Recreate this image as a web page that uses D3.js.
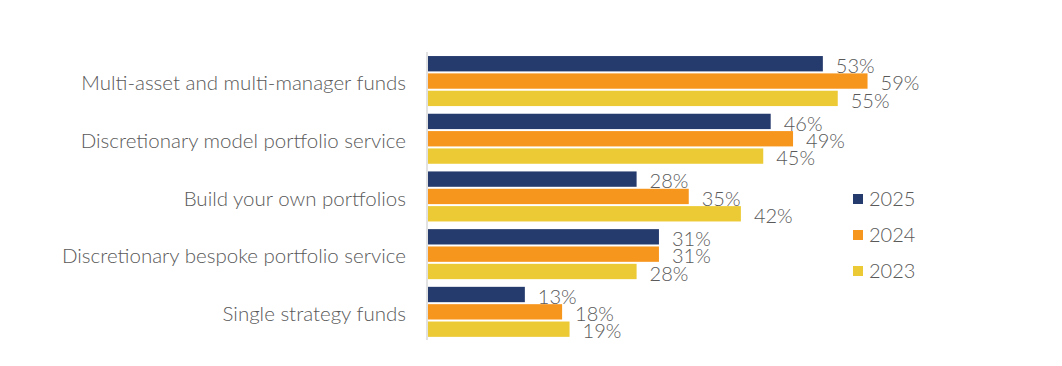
<!DOCTYPE html>
<html>
<head>
<meta charset="utf-8">
<script src="https://cdn.jsdelivr.net/npm/d3@7"></script>
<style>
  body { margin: 0; background: #fff; }
  text { font-family: Lato, "Open Sans", sans-serif; font-weight: 300; fill: #595959; }
</style>
</head>
<body>
<script>
// Chart data
const categories = [
  "Multi-asset and multi-manager funds",
  "Discretionary model portfolio service",
  "Build your own portfolios",
  "Discretionary bespoke portfolio service",
  "Single strategy funds"
];
const years = ["2025", "2024", "2023"];
const values2025 = [53, 46, 28, 31, 13];
const values2024 = [59, 49, 35, 31, 18];
const values2023 = [55, 45, 42, 28, 19];
const colors = ["#253b6e", "#f7961d", "#ecca35"];

const seriesValues = [values2025, values2024, values2023];

const width = 1062;
const height = 366;

const svg = d3.select("body")
  .append("svg")
  .attr("width", width)
  .attr("height", height);

// Scales
const x = d3.scaleLinear().domain([0, 60]).range([428, 875]);

const y = d3.scaleBand()
  .domain(categories)
  .range([52.2, 340.7])
  .paddingInner(0.133)
  .paddingOuter(0.0667);

const ySub = d3.scaleBand()
  .domain(years)
  .range([0, y.bandwidth()])
  .paddingInner(0.115);

// One group per category
const groups = svg.selectAll(".cat")
  .data(categories)
  .enter()
  .append("g")
  .attr("class", "cat")
  .attr("transform", d => `translate(0, ${y(d)})`);

groups.each(function (cat, i) {
  const g = d3.select(this);
  const rows = years.map((yr, j) => ({ year: yr, value: seriesValues[j][i], color: colors[j] }));

  g.selectAll("rect")
    .data(rows)
    .enter()
    .append("rect")
    .attr("x", x(0))
    .attr("y", d => ySub(d.year))
    .attr("width", d => x(d.value) - x(0))
    .attr("height", ySub.bandwidth())
    .attr("fill", d => d.color);

  g.selectAll(".val")
    .data(rows)
    .enter()
    .append("text")
    .attr("class", "val")
    .attr("x", d => x(d.value) + 13)
    .attr("y", d => ySub(d.year) + ySub.bandwidth() + 1.5)
    .style("font-size", "20px")
    .text(d => d.value + "%");
});

// Category axis
const yAxis = svg.append("g")
  .attr("transform", `translate(${x(0) - 1}, 2.5)`)
  .call(d3.axisLeft(y).tickSize(0).tickPadding(21));

yAxis.select(".domain")
  .attr("stroke", "#d9d9d9")
  .attr("stroke-width", 1.5)
  .attr("d", "M0,49.5V337.5");

yAxis.selectAll("text")
  .style("font-family", "Lato, 'Open Sans', sans-serif")
  .style("font-size", "20.5px")
  .attr("fill", "#595959");

// Legend
const legend = svg.append("g").attr("transform", "translate(853, 199)");

const items = legend.selectAll("g")
  .data(years)
  .enter()
  .append("g")
  .attr("transform", (d, i) => `translate(0, ${i * 36})`);

items.append("rect")
  .attr("x", 0)
  .attr("y", -5)
  .attr("width", 10)
  .attr("height", 10)
  .attr("fill", (d, i) => colors[i]);

items.append("text")
  .attr("x", 16)
  .attr("y", 7)
  .style("font-size", "20px")
  .text(d => d);
</script>
</body>
</html>
